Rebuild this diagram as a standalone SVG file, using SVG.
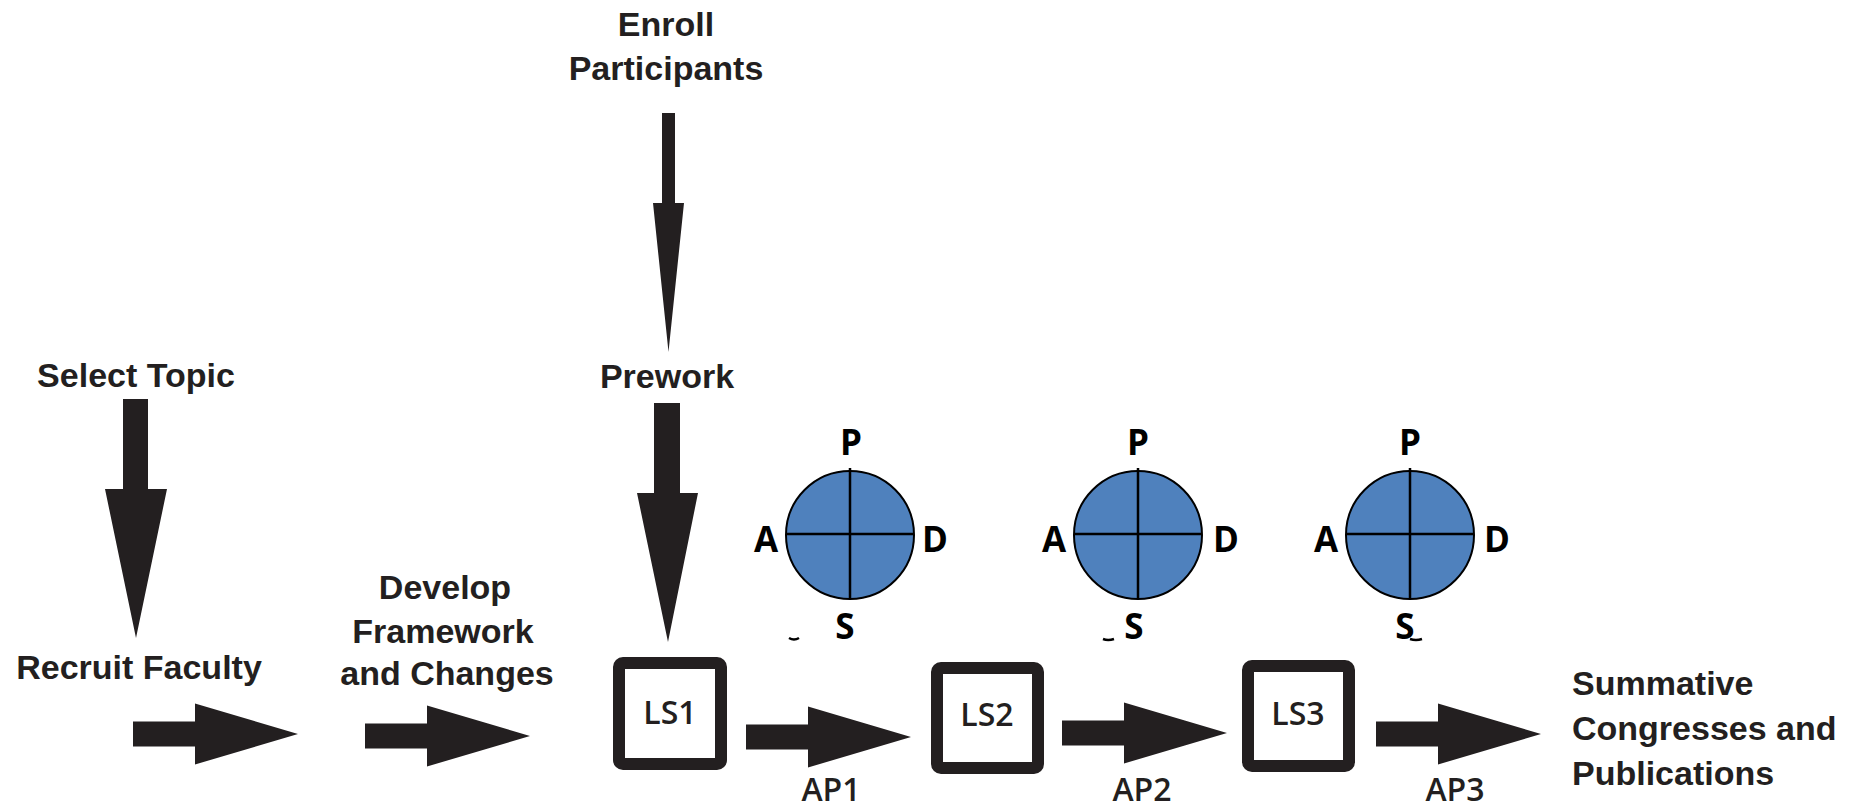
<svg xmlns="http://www.w3.org/2000/svg" width="1850" height="810" viewBox="0 0 1850 810">
<style>
.lbl{font-family:"Liberation Sans",Arial,sans-serif;font-weight:bold;font-size:34px;fill:#231f20}
.pdsa{font-family:"Open Sans","Liberation Sans",sans-serif;font-weight:bold;font-size:35px;fill:#000;text-anchor:middle}
.ls{font-family:"Open Sans","Liberation Sans",sans-serif;font-weight:600;font-size:32px;fill:#231f20;text-anchor:middle}
.box{fill:#fff;stroke:#231f20;stroke-width:12}
.arr{fill:#231f20}
.circ{fill:#4f81bd;stroke:#000;stroke-width:2}
.cross{stroke:#000;stroke-width:2.5;fill:none}
</style>
<defs>
<path id="harrow" d="M0,-12.5 H62 V-30.5 L165,0 L62,30.5 V12.5 H0 Z"/>
</defs>
<rect width="1850" height="810" fill="#fff"/>

<g id="connectors" class="arr">
  <path d="M662,113 H675 V203 H684 L668.5,352 L653,203 H662 Z"/>
  <path d="M654,403 H680 V493 H698 L668,642 L637,493 H654 Z"/>
  <path d="M123,399 H148 V489 H167 L136,638 L105,489 H123 Z"/>
  <use href="#harrow" x="133" y="734"/>
  <use href="#harrow" x="365" y="736"/>
  <use href="#harrow" x="746" y="737"/>
  <use href="#harrow" x="1062" y="733"/>
  <use href="#harrow" x="1376" y="734"/>
</g>

<g id="enroll"><text class="lbl" text-anchor="middle" x="666" y="36">Enroll</text><text class="lbl" text-anchor="middle" x="666" y="80">Participants</text></g>
<g id="prework"><text class="lbl" text-anchor="middle" x="667" y="388">Prework</text></g>
<g id="select"><text class="lbl" text-anchor="middle" x="136" y="387">Select Topic</text></g>
<g id="recruit"><text class="lbl" text-anchor="middle" x="139" y="679">Recruit Faculty</text></g>
<g id="develop"><text class="lbl" text-anchor="middle" x="445" y="599">Develop</text><text class="lbl" text-anchor="middle" x="443" y="643">Framework</text><text class="lbl" text-anchor="middle" x="447" y="685">and Changes</text></g>
<g id="summative"><text class="lbl" x="1572" y="695">Summative</text><text class="lbl" x="1572" y="740">Congresses and</text><text class="lbl" x="1572" y="785">Publications</text></g>

<g id="ls1"><rect class="box" x="619" y="663" width="102" height="101" rx="4"/><text class="ls" x="670" y="724">LS1</text></g>
<g id="ls2"><rect class="box" x="937" y="668" width="101" height="100" rx="4"/><text class="ls" x="987" y="726">LS2</text></g>
<g id="ls3"><rect class="box" x="1248" y="666" width="101" height="100" rx="4"/><text class="ls" x="1298" y="725">LS3</text></g>

<g id="ap-labels"><text class="ls" x="831" y="801">AP1</text><text class="ls" x="1142" y="801">AP2</text><text class="ls" x="1455" y="801">AP3</text></g>

<g id="pdsa1">
  <circle class="circ" cx="850" cy="535" r="64"/>
  <path class="cross" d="M850,468 V599 M786,534 H914"/>
  <text class="pdsa" x="851" y="455">P</text>
  <text class="pdsa" x="766" y="552">A</text>
  <text class="pdsa" x="935" y="552">D</text>
  <text class="pdsa" x="845" y="639">S</text>
  <path d="M789,638 q5,3 10,0" stroke="#000" stroke-width="2.5" fill="none"/>
</g>
<g id="pdsa2">
  <circle class="circ" cx="1138" cy="535" r="64"/>
  <path class="cross" d="M1138,468 V599 M1074,534 H1202"/>
  <text class="pdsa" x="1138" y="455">P</text>
  <text class="pdsa" x="1054" y="552">A</text>
  <text class="pdsa" x="1226" y="552">D</text>
  <text class="pdsa" x="1134" y="639">S</text>
  <path d="M1103,639 q5,2 11,0" stroke="#000" stroke-width="2.5" fill="none"/>
</g>
<g id="pdsa3">
  <circle class="circ" cx="1410" cy="535" r="64"/>
  <path class="cross" d="M1410,468 V599 M1346,534 H1474"/>
  <text class="pdsa" x="1410" y="455">P</text>
  <text class="pdsa" x="1326" y="552">A</text>
  <text class="pdsa" x="1497" y="552">D</text>
  <text class="pdsa" x="1405" y="639">S</text>
  <path d="M1410,639 q6,2 12,0" stroke="#000" stroke-width="2.5" fill="none"/>
</g>
</svg>
